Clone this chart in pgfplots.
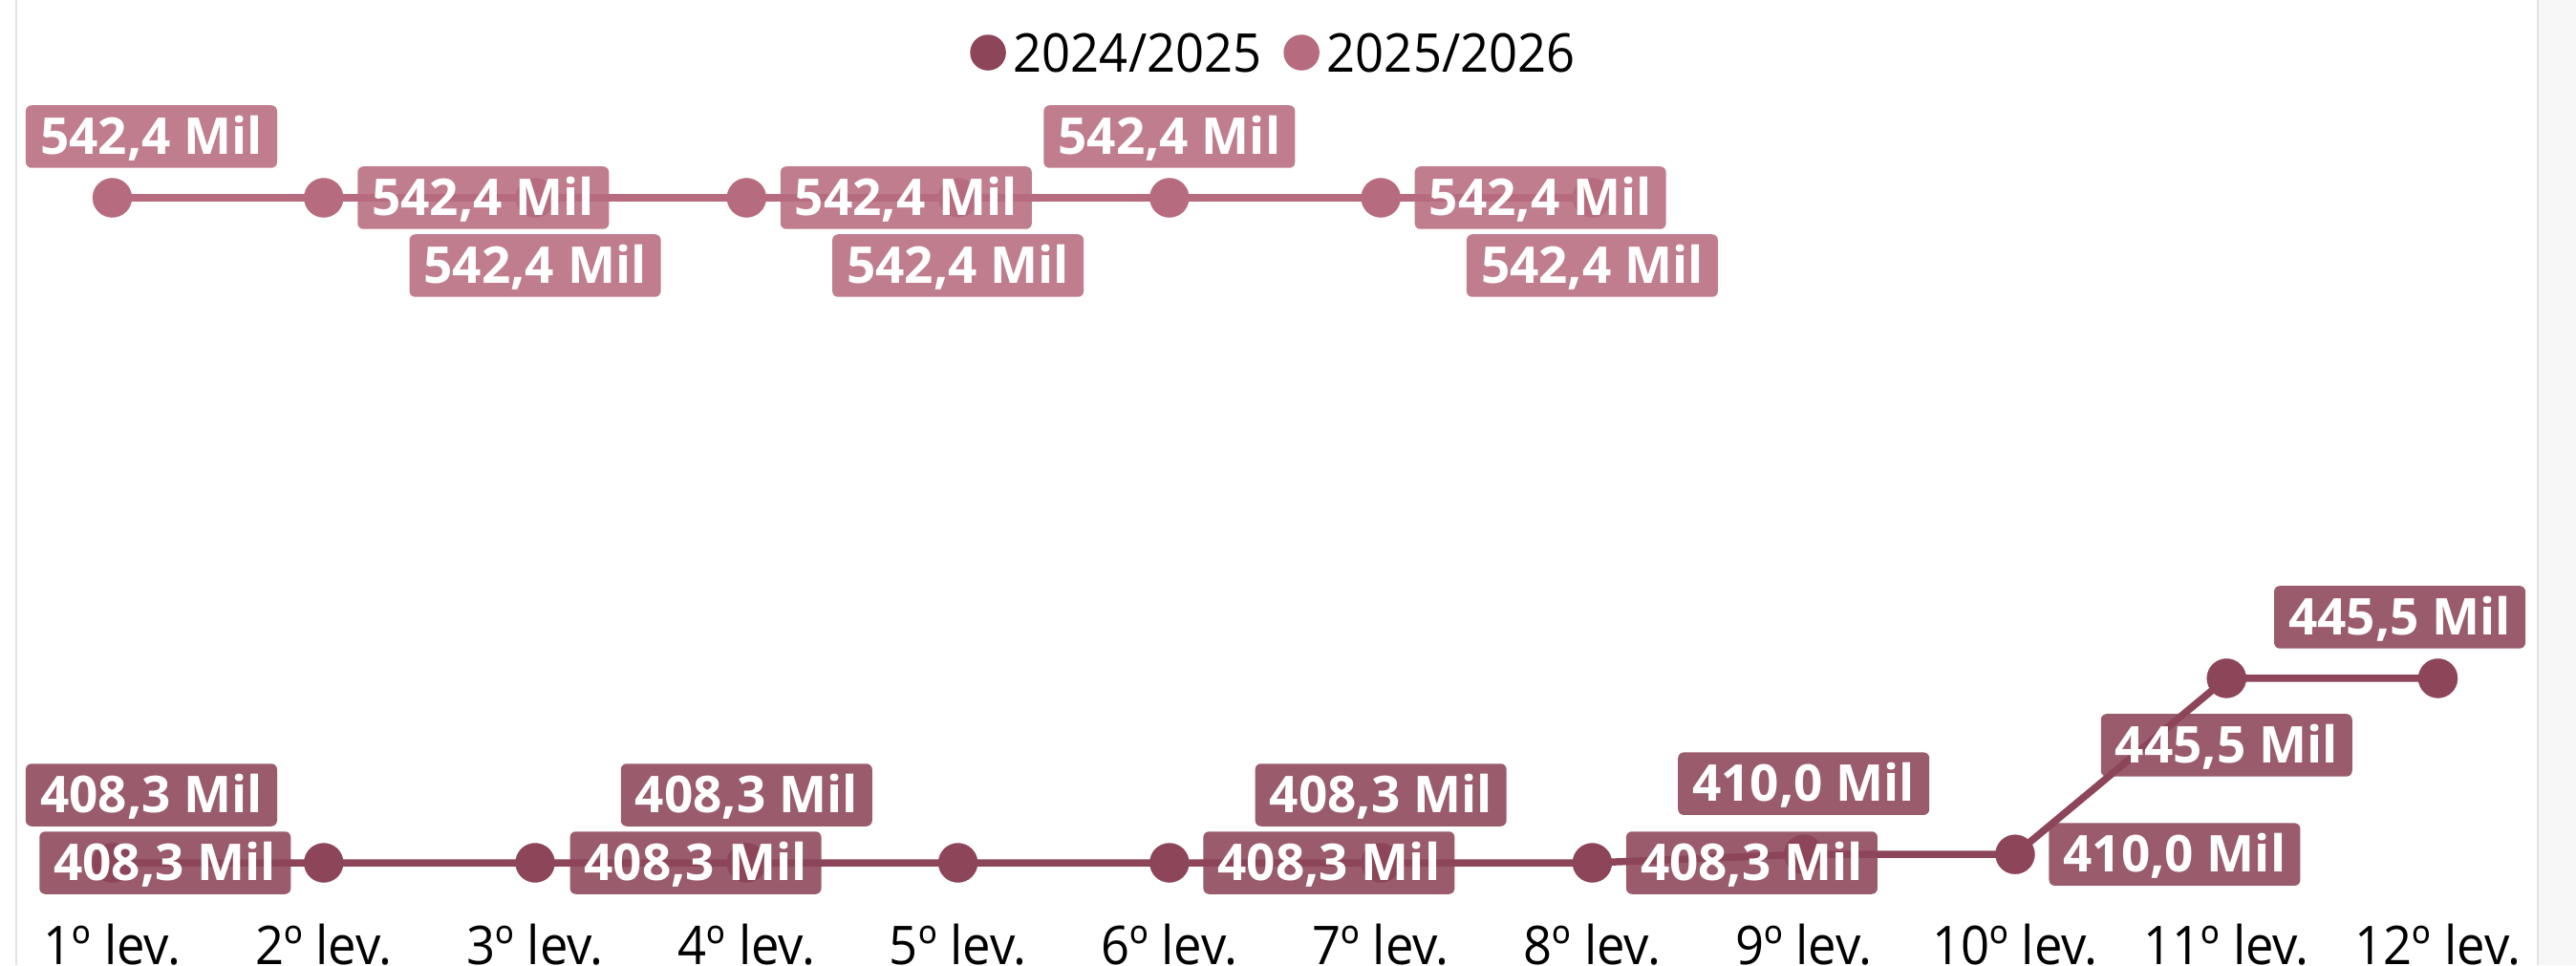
\documentclass[border=0pt]{standalone}
\usepackage{pgfplots}
\pgfplotsset{compat=1.18}
\usepackage{pgfplotstable}
\usepackage{fontspec}
\setmainfont{Open Sans}
\newfontfamily\narrowsans{Open Sans}[FakeStretch=0.94]
\newcommand\axisfont{\narrowsans\fontsize{15.9pt}{19pt}\selectfont}
\newcommand\valuefont{\bfseries\fontsize{15.1pt}{18pt}\selectfont}

\definecolor{serA}{RGB}{140,69,89}
\definecolor{serB}{RGB}{183,107,126}
\definecolor{panelline}{RGB}{226,226,226}
\definecolor{panelside}{RGB}{247,247,247}

% value per survey; dx/dy place each value box (0.1 mm steps)
\pgfplotstableread{
x y dx dy
1 408.3 41 71
2 408.3 -166 0
3 408.3 168 0
4 408.3 0 71
5 408.3 0 0
6 408.3 167 0
7 408.3 0 71
8 408.3 167 0
9 410.0 0 74
10 410.0 167 0
11 445.5 0 -70
12 445.5 -40 64
}\levA

\pgfplotstableread{
x y dx dy
1 542.4 41 64
2 542.4 167 0
3 542.4 0 -71
4 542.4 167 0
5 542.4 0 -71
6 542.4 0 64
7 542.4 167 0
8 542.4 0 -71
}\levB

\pgfplotsset{
  value labels/.style={
    draw=none, mark=none, forget plot,
    point meta=y,
    visualization depends on={\thisrow{dx} \as \ldx},
    visualization depends on={\thisrow{dy} \as \ldy},
    nodes near coords={\pgfmathprintnumber[fixed,fixed zerofill,precision=1,use comma,assume math mode=true]{\pgfplotspointmeta}~Mil},
    every node near coord/.style={
      anchor=center, xshift={\ldx*0.1mm}, yshift={\ldy*0.1mm},
      fill=#1, fill opacity=0.88, text opacity=1, text=white,
      font=\valuefont, rounded corners=0.6mm,
      minimum width=26.3mm, minimum height=6.55mm,
      inner xsep=1.5mm, inner ysep=0pt, text height=3.75mm, text depth=0pt},
  },
  series line/.style={
    color=#1, line width=0.75mm, mark=*, mark size=2.05mm,
    mark options={line width=0.1pt},
    legend image code/.code={\fill[#1] (1.5mm,0mm) circle (1.5mm);},
  },
}

\begin{document}
\begin{tikzpicture}
% panel edges
\draw[panelline, line width=0.15mm] (1.7mm,0) -- (1.7mm,-101mm);
\fill[panelside] (265.7mm,0) rectangle (269.6mm,-101mm);
\draw[panelline, line width=0.15mm] (265.6mm,0) -- (265.6mm,-101mm);
\begin{axis}[
  at={(0,0)}, anchor=north west,
  scale only axis, width=269.6mm, height=95.5mm,
  xmin=0.469, xmax=12.653, ymin=398.28, ymax=582.28,
  axis line style={draw=none},
  ytick=\empty,
  xtick={1,...,12},
  xticklabels={1º lev., 2º lev., 3º lev., 4º lev., 5º lev., 6º lev., 7º lev., 8º lev., 9º lev., 10º lev., 11º lev., 12º lev.},
  major tick length=0pt,
  xticklabel style={font=\axisfont, anchor=north, inner sep=0pt, text height=4mm, text depth=0pt, yshift=-1.4mm},
  clip=false,
  legend columns=2,
  legend cell align=left,
  legend style={at={(0.3766,0.9424)}, anchor=west, draw=none, fill=none,
    inner sep=0pt, outer sep=0pt, font=\axisfont,
    nodes={inner sep=0pt, text height=4mm, text depth=0pt},
    /tikz/every odd column/.append style={column sep=0.8mm},
    /tikz/every even column/.append style={column sep=2.3mm}},
]
\addplot[series line=serA] table[x=x, y=y] {\levA};
\addlegendentry{2024/2025}
\addplot[series line=serB] table[x=x, y=y] {\levB};
\addlegendentry{2025/2026}

\addplot[value labels=serB] table[x=x, y=y] {\levB};
\addplot[value labels=serA, skip coords between index={4}{5}] table[x=x, y=y] {\levA};
\end{axis}
\pgfresetboundingbox
\useasboundingbox (0,0) rectangle (269.6mm,-101mm);
\end{tikzpicture}
\end{document}
